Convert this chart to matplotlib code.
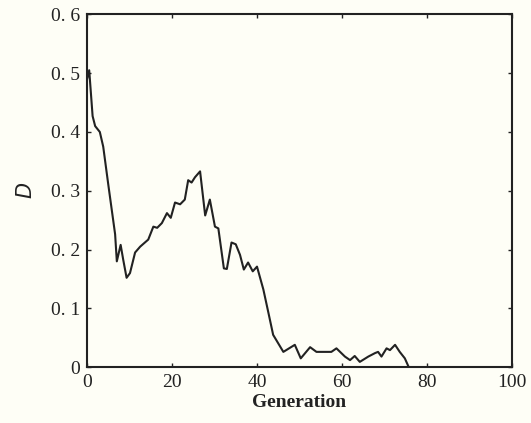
import matplotlib
matplotlib.use("Agg")
import matplotlib.pyplot as plt

generation = [0, 0.5, 1.3, 1.9, 3.0, 3.8, 5.0, 6.6, 7.0, 7.9, 8.5, 9.3, 10.1, 11.3,
              12.5, 14.4, 15.6, 16.5, 17.6, 18.8, 19.7, 20.7, 21.9, 23.0, 23.8, 24.6,
              25.4, 26.6, 27.8, 28.9, 30.1, 30.9, 32.2, 32.9, 34.0, 35.0, 36.0, 36.9,
              37.9, 39.0, 40.0, 41.5, 42.7, 43.8, 46.2, 48.9, 50.3, 52.5, 54.0, 57.5,
              58.7, 60.7, 61.9, 63.0, 64.2, 66.2, 67.8, 68.5, 69.3, 70.5, 71.3, 72.5,
              73.6, 74.8, 75.6]
D = [0.49, 0.505, 0.427, 0.41, 0.40, 0.375, 0.31, 0.226, 0.18, 0.208, 0.183, 0.152,
     0.16, 0.195, 0.205, 0.217, 0.239, 0.237, 0.245, 0.262, 0.254, 0.28, 0.277, 0.285,
     0.318, 0.314, 0.323, 0.333, 0.258, 0.285, 0.239, 0.236, 0.168, 0.167, 0.212,
     0.209, 0.191, 0.166, 0.178, 0.163, 0.171, 0.132, 0.092, 0.055, 0.026, 0.038,
     0.015, 0.034, 0.026, 0.026, 0.032, 0.018, 0.012, 0.019, 0.009, 0.018, 0.024,
     0.026, 0.018, 0.032, 0.029, 0.038, 0.026, 0.015, 0.002]

xticks = [0, 20, 40, 60, 80, 100]
yticks = [0, 0.1, 0.2, 0.3, 0.4, 0.5, 0.6]
ytick_labels = ["0", "0. 1", "0. 2", "0. 3", "0. 4", "0. 5", "0. 6"]

plt.rcParams['font.family'] = ['Liberation Serif', 'DejaVu Serif']
bg = '#fefef6'
fig = plt.figure(figsize=(5.31, 4.23), dpi=100, facecolor=bg)
ax = fig.add_axes([0.164, 0.132, 0.800, 0.834], facecolor=bg)
ax.plot(generation, D, color='#222222', linewidth=1.5)
ax.set_xlim(0, 100)
ax.set_ylim(0, 0.6)
ax.set_xticks(xticks)
ax.set_xticklabels([str(v) for v in xticks])
ax.set_yticks(yticks)
ax.set_yticklabels(ytick_labels)
ax.tick_params(direction='in', length=3, width=1, top=True, right=True,
               labelsize=14, colors='#222222', pad=5)
for s in ax.spines.values():
    s.set_linewidth(1.5)
    s.set_color('#222222')
ax.set_xlabel('Generation', fontsize=14, fontweight='bold', color='#222222', labelpad=2)
ax.set_ylabel('$D$', fontsize=15, color='#222222', labelpad=10)
fig.savefig('out.png', dpi=100, facecolor=bg)
